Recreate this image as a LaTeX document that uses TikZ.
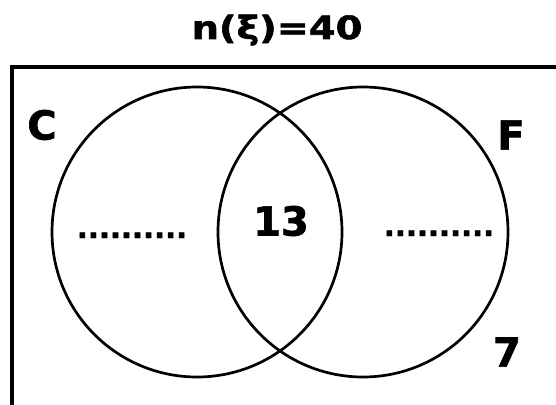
\documentclass[tikz,border=0pt]{standalone}
\usepackage{fontspec}
\setmainfont{DejaVu Sans}
\newfontfamily\heavy{DejaVu Sans Bold}[FakeBold=1.6]
\begin{document}
\begin{tikzpicture}[x=1pt,y=-1pt,
  lbl/.style={font=\fontsize{40}{40}\selectfont\heavy, inner sep=0pt},
  dotsl/.style={font=\fontsize{29}{29}\selectfont\heavy, inner sep=0pt, anchor=base},
  setc/.style={circle, draw, line width=2.7pt, minimum size=290pt, inner sep=0pt}]
\useasboundingbox (0,0) rectangle (556,404);
\clip (0,0) rectangle (556,404);
\draw[line width=3.2pt] (12,67) rectangle (640,470);
\node[setc] (setC) at (197,232) {};
\node[setc] (setF) at (363,232) {};
\node[anchor=base, inner sep=0pt, font=\fontsize{32}{32}\selectfont\heavy] (title) at (277,39) {\scalebox{1.2}[1]{n(ξ)=40}};
\node[lbl] (labC) at (42,125) {C};
\node[lbl] (labF) at (511,135) {F};
\node[lbl] (both) at (281,221) {13};
\node[lbl] (outside) at (507,352) {7};
\node[dotsl] (onlyC) at (132,238) {..........};
\node[dotsl] (onlyF) at (439,236) {..........};
\end{tikzpicture}
\end{document}
